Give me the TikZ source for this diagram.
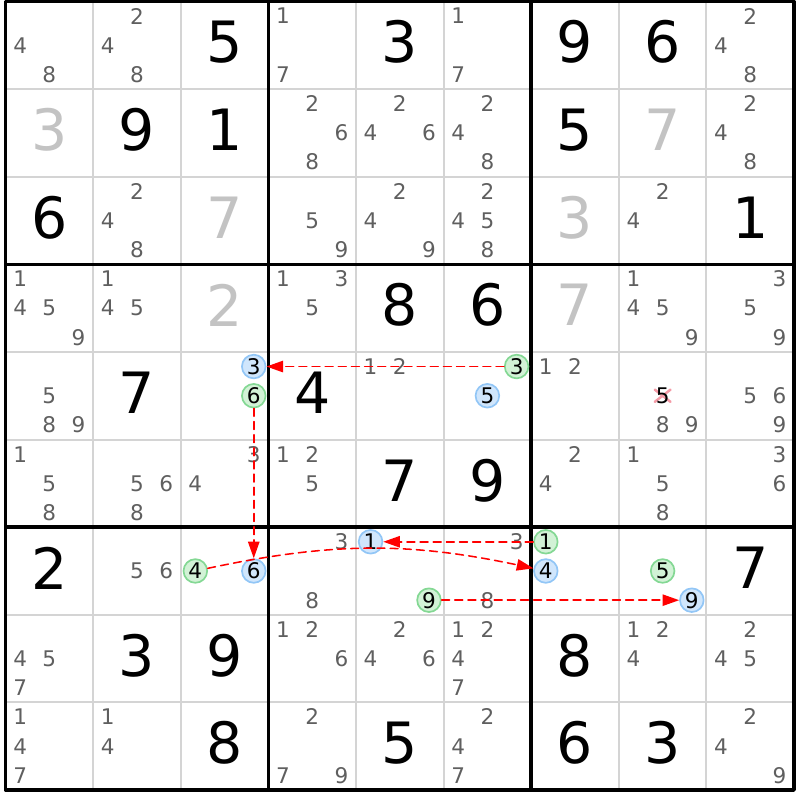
\documentclass[tikz,border=0pt]{standalone}
\usepackage{fontspec}
\setmainfont{DejaVu Sans}
\usetikzlibrary{arrows.meta}
\definecolor{candgray}{HTML}{5F5F5F}
\definecolor{solvgray}{HTML}{C3C3C3}
\definecolor{thingray}{HTML}{D4D4D4}
\definecolor{bluefill}{HTML}{D0E6FC}
\definecolor{blueline}{HTML}{92C6F6}
\definecolor{greenfill}{HTML}{D2F2D6}
\definecolor{greenline}{HTML}{84D894}
\definecolor{xpink}{HTML}{F49AA6}
\begin{document}
\begin{tikzpicture}[x=1cm,y=1cm,line cap=round,line join=round,
	given/.style={font=\fontsize{18.5}{20}\selectfont,text=black,inner sep=0pt,yshift=0.35mm},
	solved/.style={given,text=solvgray},
	cand/.style={font=\fontsize{7}{8}\selectfont,text=candgray,inner sep=0pt},
	bluecand/.style={cand,text=black,circle,draw=blueline,fill=bluefill,line width=0.55pt,minimum size=2.7mm},
	greencand/.style={bluecand,draw=greenline,fill=greenfill},
	link/.style={red,dash pattern=on 0.9mm off 0.6mm,line width=0.5pt,-{Triangle[length=1.9mm,width=1.3mm]}}]
		\useasboundingbox (-0.063,-0.114) rectangle (9.057,9.017);
		% thin cell lines
		\foreach \i in {1,2,4,5,7,8} {
			\draw [thingray,line width=0.65pt,line cap=butt] (\i,0) -- (\i,9);
			\draw [thingray,line width=0.65pt,line cap=butt] (0,\i) -- (9,\i);
		}
		% box lines
		\foreach \i in {3,6} {
			\draw [line width=1.15pt,line cap=butt] (\i,0) -- (\i,9);
			\draw [line width=1.15pt,line cap=butt] (0,\i) -- (9,\i);
		}
		\draw [line width=1.15pt] (0,0) rectangle (9,9);
		% given digits
		\foreach \r/\c/\d in {1/3/5,1/5/3,1/7/9,1/8/6,2/2/9,2/3/1,2/7/5,3/1/6,3/9/1,4/5/8,4/6/6,5/2/7,5/4/4,6/5/7,6/6/9,7/1/2,7/9/7,8/2/3,8/3/9,8/7/8,9/3/8,9/5/5,9/7/6,9/8/3}
			\node [given] (g\r\c) at ({\c-0.5},{9.5-\r}) {\d};
		% solved digits
		\foreach \r/\c/\d in {2/1/3,2/8/7,3/3/7,3/7/3,4/3/2,4/7/7}
			\node [solved] (g\r\c) at ({\c-0.5},{9.5-\r}) {\d};
		% candidates
		\foreach \r/\c/\ks in {1/1/{4,8},1/2/{2,4,8},1/4/{1,7},1/6/{1,7},1/9/{2,4,8},
			2/4/{2,6,8},2/5/{2,4,6},2/6/{2,4,8},2/9/{2,4,8},
			3/2/{2,4,8},3/4/{5,9},3/5/{2,4,9},3/6/{2,4,5,8},3/8/{2,4},
			4/1/{1,4,5,9},4/2/{1,4,5},4/4/{1,3,5},4/8/{1,4,5,9},4/9/{3,5,9},
			5/1/{5,8,9},5/5/{1,2},5/7/{1,2},5/8/{8,9},5/9/{5,6,9},
			6/1/{1,5,8},6/2/{5,6,8},6/3/{3,4},6/4/{1,2,5},6/7/{2,4},6/8/{1,5,8},6/9/{3,6},
			7/2/{5,6},7/4/{3,8},7/6/{3,8},
			8/1/{4,5,7},8/4/{1,2,6},8/5/{2,4,6},8/6/{1,2,4,7},8/8/{1,2,4},8/9/{2,4,5},
			9/1/{1,4,7},9/2/{1,4},9/4/{2,7,9},9/6/{2,4,7},9/9/{2,4,9}}
			\foreach \k in \ks
				\node [cand] (c\r\c\k) at ({\c-1+(mod(\k-1,3)+0.5)/3},{10-\r-(floor((\k-1)/3)+0.5)/3}) {\k};
		% chain candidates
		\foreach \r/\c/\k in {5/3/3,5/6/5,7/3/6,7/5/1,7/7/4,7/8/9}
			\node [bluecand] (c\r\c\k) at ({\c-1+(mod(\k-1,3)+0.5)/3},{10-\r-(floor((\k-1)/3)+0.5)/3}) {\k};
		\foreach \r/\c/\k in {5/3/6,5/6/3,7/3/4,7/5/9,7/7/1,7/8/5}
			\node [greencand] (c\r\c\k) at ({\c-1+(mod(\k-1,3)+0.5)/3},{10-\r-(floor((\k-1)/3)+0.5)/3}) {\k};
		% eliminated candidate
		\coordinate (x585) at (7.5,4.5);
		\draw [xpink,line width=0.8pt] ([xshift=-0.9mm,yshift=-0.7mm]x585) -- ([xshift=0.9mm,yshift=0.7mm]x585);
		\draw [xpink,line width=0.8pt] ([xshift=-0.9mm,yshift=0.7mm]x585) -- ([xshift=0.9mm,yshift=-0.7mm]x585);
		\node [cand,text=black] (c585) at (x585) {5};
		% links
		\draw [link] (c563) -- (c533);
		\draw [link] (c536) -- (c736);
		\draw [link] (c734) to[bend left=12] (c774);
		\draw [link] (c771) -- (c751);
		\draw [link] (c759) -- (c789);
\end{tikzpicture}
\end{document}
